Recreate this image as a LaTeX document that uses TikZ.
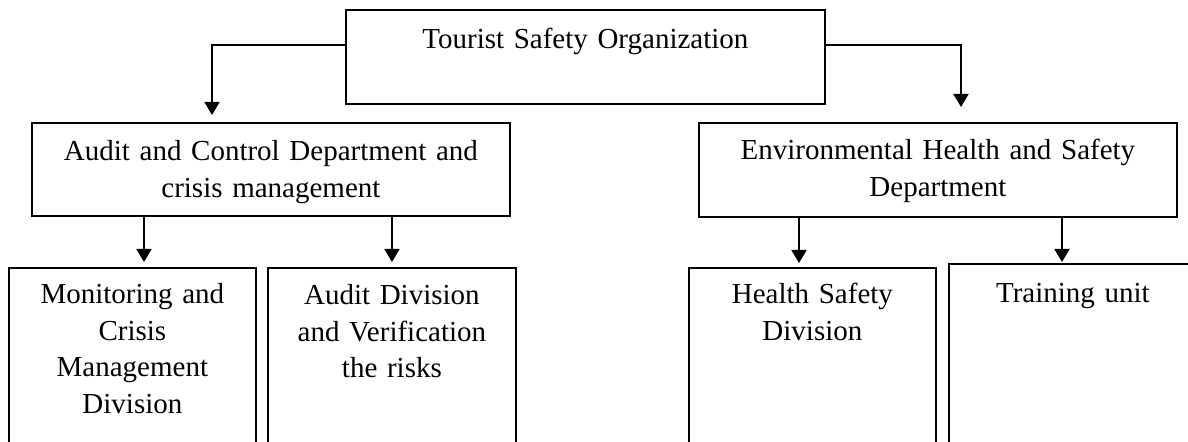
\documentclass[tikz,border=0pt]{standalone}
\usepackage{fontspec}
\setmainfont{Liberation Serif}
\usetikzlibrary{arrows.meta}

\begin{document}
\begin{tikzpicture}[x=0.5pt, y=-0.5pt,
    unit/.style={draw, line width=0.9pt, inner sep=0pt, align=center, anchor=north west,
        font=\fontsize{14.5}{18.25}\selectfont},
    conn/.style={->, >={Triangle[width=7.5pt, length=6.5pt]}, line width=0.9pt}]
    % Frame
    \useasboundingbox (0, 0) rectangle (1188, 442);
    \clip (0, 0) rectangle (1188, 442);

    % Organization
    \node[unit, text width=239.5pt, text height=19.5pt, text depth=27.5pt] (org) at (345, 9)
        {Tourist Safety Organization};

    % Departments
    \node[unit, text width=239pt, text height=19pt, text depth=27.5pt] (audit) at (31, 122)
        {Audit and Control Department and\\ crisis management};
    \node[unit, text width=239pt, text height=18.5pt, text depth=28.5pt] (env) at (698, 122)
        {Environmental Health and Safety\\ Department};

    % Divisions and units
    \node[unit, text width=123.5pt, text height=18pt, text depth=100pt] (mon) at (8, 267)
        {Monitoring and\\ Crisis\\ Management\\ Division};
    \node[unit, text width=124pt, text height=18.5pt, text depth=100pt] (ver) at (267, 267)
        {Audit Division\\ and Verification\\ the risks};
    \node[unit, text width=123.5pt, text height=18pt, text depth=100pt] (health) at (688, 267)
        {Health Safety\\ Division};
    \node[unit, text width=124pt, text height=19.5pt, text depth=100pt] (train) at (948, 263)
        {Training unit};

    % Connectors
    \draw[conn, shorten >=3.5pt] (org.west |- 0,45) -| (audit.north -| 212,0);
    \draw[conn, shorten >=7.5pt] (org.east |- 0,45) -| (env.north -| 961,0);
    \draw[conn, shorten >=2.5pt] (audit.south -| 144,0) -- (mon.north -| 144,0);
    \draw[conn, shorten >=2.5pt] (audit.south -| 392,0) -- (ver.north -| 392,0);
    \draw[conn, shorten >=2pt] (env.south -| 799,0) -- (health.north -| 799,0);
    \draw[conn, shorten >=0.5pt] (env.south -| 1062,0) -- (train.north -| 1062,0);
\end{tikzpicture}
\end{document}
